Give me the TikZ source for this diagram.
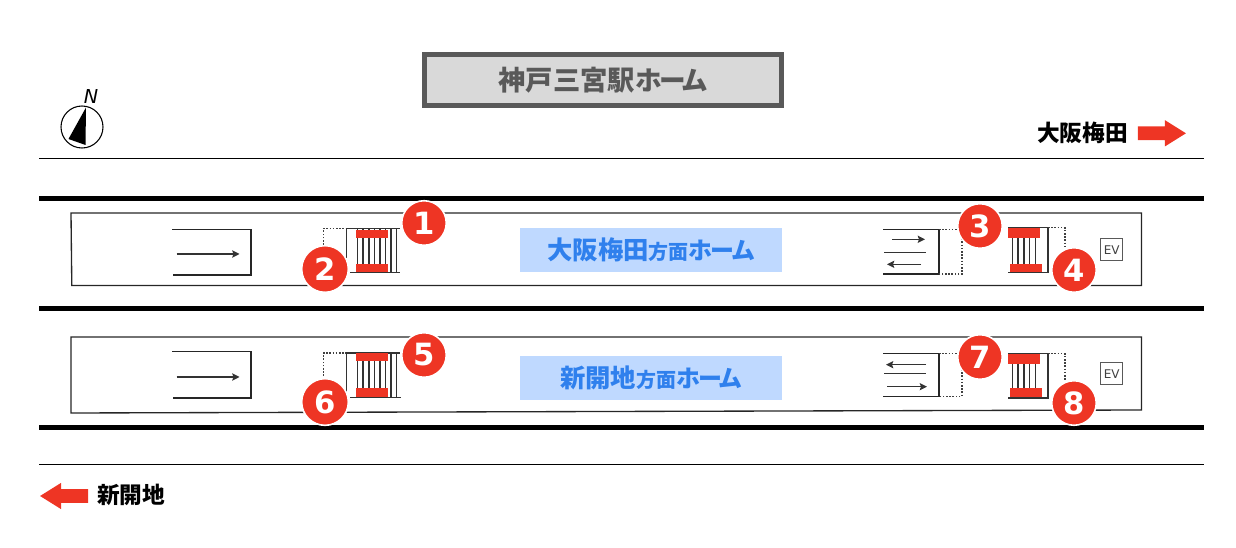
\documentclass[tikz,border=0pt]{standalone}
\usepackage{fontspec}
\newfontfamily\jpfont[RawFeature=+palt]{Noto Sans CJK JP}
\setmainfont{DejaVu Sans}
\usetikzlibrary{shapes,arrows,arrows.meta}
\definecolor{markred}{HTML}{EE3524}
\definecolor{homeblue}{HTML}{BFD9FF}
\definecolor{hometext}{HTML}{2F80ED}
\tikzstyle{badge} = [circle, draw=white, line width=1.2pt, fill=markred, text=white, inner sep=0pt, minimum size=33.4pt, font=\bfseries\fontsize{23}{23}\selectfont]
\tikzstyle{rail} = [line width=3.8pt]
\tikzstyle{rule} = [line width=0.75pt]
\tikzstyle{wall} = [line width=1pt, black!85]
\tikzstyle{thin} = [line width=0.8pt, black!80]
\tikzstyle{dots} = [line width=0.8pt, dash pattern=on 1.2pt off 1.2pt, black!75]
\tikzstyle{bar} = [fill=markred, draw=none]
\tikzstyle{home} = [fill=homeblue, inner sep=0pt, minimum width=196.5pt, minimum height=33pt, text=hometext, font=\jpfont\bfseries\fontsize{19}{19}\selectfont]
\tikzstyle{evbox} = [draw=black!65, line width=0.7pt, inner sep=0pt, minimum size=16.5pt, text=black!75, font=\fontsize{9}{9}\selectfont]
\tikzstyle{place} = [inner sep=0pt, font=\jpfont\bfseries\fontsize{17}{17}\selectfont]
\tikzstyle{way} = [single arrow, fill=markred, draw=none, minimum height=36pt, minimum width=19.3pt, single arrow head extend=4.8pt, inner sep=4.9pt, single arrow tip angle=64]
\newcommand{\dirword}{{\fontsize{15}{15}\selectfont 方面}}
\newcommand{\homeword}{ホ\kern-.08em ー\kern-.08em ム}
\newcommand{\homesize}{\fontsize{18}{18}\selectfont}
\begin{document}
\begin{tikzpicture}[x=0.75pt,y=-0.75pt,>={Stealth[length=5.5pt,width=5.5pt,inset=1pt]}]
\useasboundingbox (0,0) rectangle (1236,548);

% title
\node[draw=black!65, line width=3.4pt, fill=black!15, minimum width=267.75pt, minimum height=38.2pt, inner sep=0pt, text=black!65, font=\jpfont\bfseries\fontsize{20.5}{20.5}\selectfont] (title) at (603,80) {神戸三宮駅{\fontsize{20}{20}\selectfont\homeword}};

% north mark
\node[circle, draw, line width=0.8pt, minimum size=31.5pt, inner sep=0pt] (north) at (82,127) {};
\fill (86,107.5) -- (68.5,139) -- (85.5,145) -- cycle;
\node[inner sep=0pt, font=\itshape\fontsize{14.4}{14.4}\selectfont] (n) at (91,96.3) {N};

% direction marks
\node[place, anchor=east] (osaka) at (1128,133) {大阪梅田};
\node[way] (eastway) at (1156.5,133.3) {};
\node[place, anchor=west] (kobe) at (97,495) {新開地};
\node[way, shape border rotate=180] (westway) at (69.5,496) {};

% rules and rails
\draw[rule] (39,159) -- (1204,159);
\draw[rule] (39,464.5) -- (1204,464.5);
\draw[rail] (39,198.5) -- (1204,198.5);
\draw[rail] (39,308.5) -- (1204,308.5);
\draw[rail] (39,427.5) -- (1204,427.5);

% platforms
\draw[wall] (71,213) -- (1141.5,213) -- (1141.5,285.5) -- (71.8,285.5) -- cycle;
\draw[wall] (71,337) -- (1141.5,337) -- (1141.5,410) -- (71,413) -- cycle;

% upper platform, west
\draw[wall] (172,229.5) -- (251,229.5) -- (251,275) -- (173,275);
\draw[thin, ->] (176.5,254) -- (239.5,254);
\draw[dots] (323.5,248) -- (323.5,228.5) -- (346,228.5);
\draw[thin] (346,228.5) -- (400,228.5) (346.3,228.5) -- (346.3,258) (350,272.7) -- (400,272.7);
\foreach \x in {357.3,363,369,374.5,380,385.7,391,396.3}
  \draw[thin] (\x,228.5) -- (\x,272.7);
\fill[bar] (356,230) rectangle (388,238);
\fill[bar] (356,264) rectangle (388,272);

% upper platform, east
\draw[wall] (883,229.3) -- (939,229.3) -- (939,274) -- (883,274);
\draw[thin] (884,252.3) -- (926,252.3);
\draw[thin, ->] (892,239.3) -- (925,239.3);
\draw[thin, ->] (921,264.3) -- (887,264.3);
\draw[dots] (939,229.3) -- (962,229.3) -- (962,274) -- (939,274);
\draw[thin] (1008,227.7) -- (1048,227.7) -- (1048,272.7) -- (1008,272.7);
\foreach \x in {1012.7,1018,1024,1029.7,1035.7}
  \draw[thin] (\x,227.7) -- (\x,272.7);
\draw[dots] (1048,227.7) -- (1065,227.7) -- (1065,250);
\fill[bar] (1008,227.7) rectangle (1040,237.7);
\fill[bar] (1010,264) rectangle (1042,271.7);
\node[evbox] (ev1) at (1111.7,249.7) {EV};

% lower platform, west
\draw[wall] (172,351.7) -- (251,351.7) -- (251,398) -- (173,398);
\draw[thin, ->] (176.5,377) -- (239.5,377);
\draw[dots] (323.5,376) -- (323.5,353) -- (346,353);
\draw[thin] (346,353) -- (400,353) (346.3,353) -- (346.3,395) (350,397.3) -- (401,397.3);
\foreach \x in {357.3,363,369,374.5,380,385.7,391,396.3}
  \draw[thin] (\x,353) -- (\x,397.3);
\fill[bar] (356,353) rectangle (388,361.3);
\fill[bar] (356,388) rectangle (388,397);

% lower platform, east
\draw[wall] (883,353.7) -- (939,353.7) -- (939,396.3) -- (883,396.3);
\draw[thin] (884,373.3) -- (926,373.3);
\draw[thin, ->] (926,364.7) -- (886,364.7);
\draw[thin, ->] (887,386.7) -- (927,386.7);
\draw[dots] (939,353.7) -- (962,353.7) -- (962,396.3) -- (939,396.3);
\draw[thin] (1008,353.7) -- (1048,353.7) -- (1048,398) -- (1008,398);
\foreach \x in {1012.7,1018,1024,1029.7,1035.7}
  \draw[thin] (\x,353.7) -- (\x,398);
\draw[dots] (1048,353.7) -- (1065,353.7) -- (1065,380);
\fill[bar] (1008,353.7) rectangle (1040,363.7);
\fill[bar] (1010,388) rectangle (1042,397.3);
\node[evbox] (ev2) at (1111.7,373.7) {EV};

% platform names
\node[home] (home1) at (651,250) {\raisebox{-1pt}{大阪梅田\dirword{\homesize\homeword}}};
\node[home] (home2) at (651,378) {\raisebox{-1pt}{新開地\dirword{\homesize\homeword}}};

% numbers
\node[badge] (b1) at (424,223) {1};
\node[badge, minimum size=35pt] (b2) at (325,269) {2};
\node[badge] (b3) at (980,226) {3};
\node[badge] (b4) at (1074,270) {4};
\node[badge] (b5) at (424,355) {5};
\node[badge, minimum size=35pt] (b6) at (325,402) {6};
\node[badge] (b7) at (980,357) {7};
\node[badge] (b8) at (1074,403) {8};

\end{tikzpicture}
\end{document}
